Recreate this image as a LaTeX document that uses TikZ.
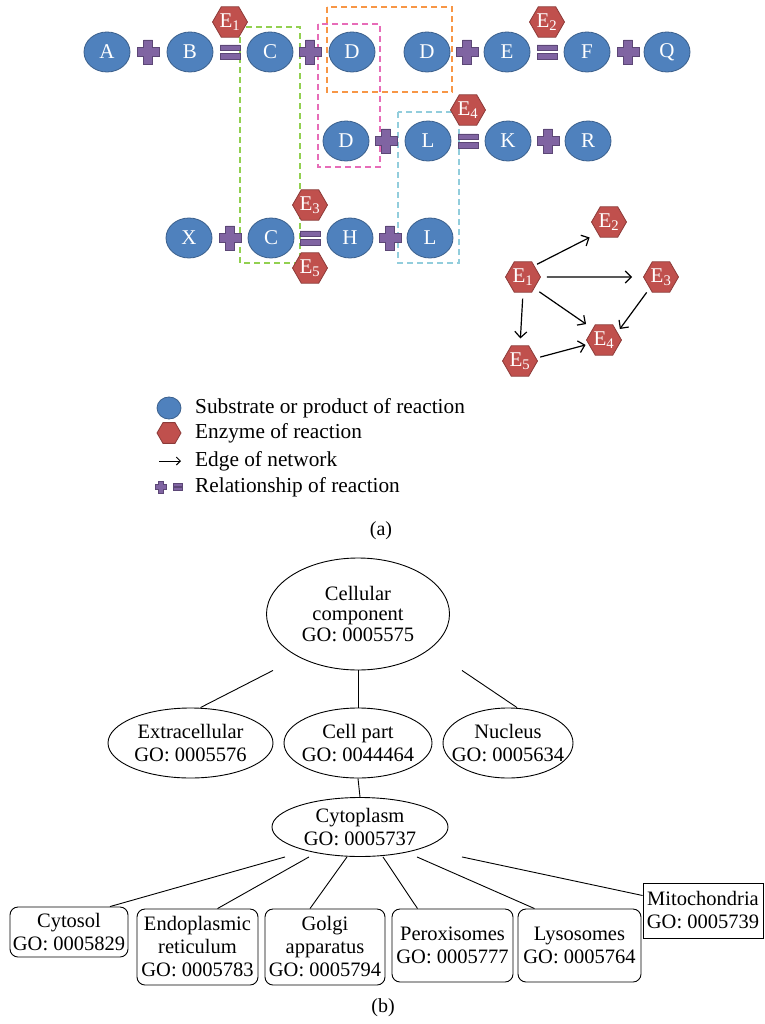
\documentclass[tikz,border=0pt]{standalone}
\usepackage{fontspec}
\setmainfont{Liberation Serif}
\usetikzlibrary{arrows.meta,shapes.geometric}

\definecolor{subfill}{HTML}{4F81BD}
\definecolor{subline}{HTML}{3A5F8C}
\definecolor{enzfill}{HTML}{C0504D}
\definecolor{enzline}{HTML}{8C3A38}
\definecolor{relfill}{HTML}{8064A2}
\definecolor{relline}{HTML}{5C4776}
\definecolor{grpgreen}{HTML}{92D050}
\definecolor{grppink}{HTML}{E76CB8}
\definecolor{grporange}{HTML}{F79646}
\definecolor{grpcyan}{HTML}{92CDDC}

\tikzset{
  substrate/.style={ellipse, draw=subline, fill=subfill, line width=0.8pt,
    minimum width=46pt, minimum height=40pt, inner sep=0pt,
    text=white, font=\fontsize{21}{21}\selectfont},
  enzyme/.style={regular polygon, regular polygon sides=6, draw=enzline,
    fill=enzfill, line width=0.8pt, minimum size=35pt, inner sep=0pt,
    text=white, font=\fontsize{21}{21}\selectfont},
  group/.style={dash pattern=on 6pt off 4pt, line width=1.3pt},
  netedge/.style={-{Straight Barb[length=6pt,width=12pt]}, line width=1.2pt},
  goterm/.style={ellipse, draw, line width=0.9pt, inner xsep=-15pt, inner ysep=-5pt,
    align=center, font=\fontsize{20.5}{23}\selectfont},
  gobox/.style={draw, rounded corners=8pt, line width=0.9pt, inner sep=0pt,
    align=center, font=\fontsize{20.5}{23}\selectfont},
  treeline/.style={line width=0.9pt},
  legtext/.style={anchor=west, inner sep=0pt, font=\fontsize{21.3}{21}\selectfont},
  pics/plussign/.style={code={
    \filldraw[fill=relfill, draw=relline, line width=0.8pt]
      (-11,-4.5) -- (-4.5,-4.5) -- (-4.5,-12) -- (4.5,-12) -- (4.5,-4.5)
      -- (11,-4.5) -- (11,4.5) -- (4.5,4.5) -- (4.5,12) -- (-4.5,12)
      -- (-4.5,4.5) -- (-11,4.5) -- cycle;}},
  pics/equalsign/.style={code={
    \filldraw[fill=relfill, draw=relline, line width=0.8pt]
      (-10,-7) rectangle (10,-1.5) (-10,1.5) rectangle (10,7);}}
}

\begin{document}
\begin{tikzpicture}[x=1pt, y=-1pt]
  \useasboundingbox (0,0) rectangle (764,1024);
  \fill[white] (0,0) rectangle (764,1024);

  % (a) reaction groups
  \draw[group, grpgreen] (240,27) rectangle (300,263);
  \draw[group, grporange] (327,7) rectangle (452,92);
  \draw[group, grppink] (318,24) rectangle (380,167);
  \draw[group, grpcyan] (398,112) rectangle (459,263);

  % relationship signs
  \pic at (148,52) {plussign};
  \pic at (230,52) {equalsign};
  \pic at (310,52) {plussign};
  \pic at (467,52) {plussign};
  \pic at (547,52) {equalsign};
  \pic at (628,52) {plussign};
  \pic at (386,141) {plussign};
  \pic at (468,141) {equalsign};
  \pic at (548,141) {plussign};
  \pic at (230,238) {plussign};
  \pic at (310,238) {equalsign};
  \pic at (390,238) {plussign};

  % substrates and products
  \node[substrate] (a) at (107,52) {A};
  \node[substrate] (b) at (190,52) {B};
  \node[substrate] (c1) at (270,52) {C};
  \node[substrate] (d1) at (352,52) {D};
  \node[substrate] (d2) at (427,52) {D};
  \node[substrate] (e) at (507,52) {E};
  \node[substrate] (f) at (587,52) {F};
  \node[substrate] (q) at (667,52) {Q};
  \node[substrate] (d3) at (346,141) {D};
  \node[substrate] (l1) at (428,141) {L};
  \node[substrate] (k) at (508,141) {K};
  \node[substrate] (r) at (588,141) {R};
  \node[substrate] (x) at (189,238) {X};
  \node[substrate] (c2) at (271,238) {C};
  \node[substrate] (h) at (350,238) {H};
  \node[substrate] (l2) at (430,238) {L};

  % enzymes
  \node[enzyme] (en1) at (230,22) {E\textsubscript{1}};
  \node[enzyme] (en2) at (547,22) {E\textsubscript{2}};
  \node[enzyme] (en4) at (468,110) {E\textsubscript{4}};
  \node[enzyme] (en3) at (310,205) {E\textsubscript{3}};
  \node[enzyme] (en5) at (310,268) {E\textsubscript{5}};

  % enzyme network
  \node[enzyme] (n1) at (523,277) {E\textsubscript{1}};
  \node[enzyme] (n2) at (609,222) {E\textsubscript{2}};
  \node[enzyme] (n3) at (661,277) {E\textsubscript{3}};
  \node[enzyme] (n4) at (604,340) {E\textsubscript{4}};
  \node[enzyme] (n5) at (520,361) {E\textsubscript{5}};
  \path[netedge]
    (n1.north east) edge[shorten <=3pt, shorten >=9pt] (n2.south west)
    (n1.east) edge[shorten <=6pt, shorten >=11pt] (n3.west)
    (n1.south east) edge[shorten <=6pt, shorten >=8pt] (n4.north west)
    (n3.south west) edge[shorten <=5pt, shorten >=4pt] (n4.30)
    (n1.south) edge[shorten <=6pt, shorten >=7pt] (n5.north)
    (n5.10) edge[shorten <=4pt, shorten >=3pt] (n4.195)
    ;

  % legend
  \node[substrate, minimum width=24pt, minimum height=22pt] (legsub) at (169,408) {};
  \node[enzyme, minimum size=24pt] (legenz) at (169,433) {};
  \coordinate (legtail) at (159,461);
  \coordinate (leghead) at (181,461);
  \draw[-{Straight Barb[length=4pt,width=8pt]}, line width=1pt] (legtail) -- (leghead);
  \pic[scale=0.5] at (161,487) {plussign};
  \pic[scale=0.47] at (178,487) {equalsign};
  \node[legtext] (legsubtext) at (195,408) {Substrate or product of reaction};
  \node[legtext] (legenztext) at (195,433) {Enzyme of reaction};
  \node[legtext] (legedgetext) at (195,461) {Edge of network};
  \node[legtext] (legreltext) at (195,487) {Relationship of reaction};

  \node[font=\fontsize{20}{20}\selectfont] (capa) at (381,531) {(a)};

  % (b) gene ontology tree
  \node[goterm, font=\fontsize{20.5}{20.5}\selectfont, minimum width=183pt, minimum height=112pt]
    (root) at (358,614) {Cellular\\component\\GO: 0005575};
  \node[goterm, minimum width=165pt, minimum height=70pt] (extra) at (190.5,743) {Extracellular\\GO: 0005576};
  \node[goterm, minimum width=148pt, minimum height=70pt] (cellpart) at (358,743) {Cell part\\GO: 0044464};
  \node[goterm, minimum width=130pt, minimum height=70pt] (nucleus) at (508,743) {Nucleus\\GO: 0005634};
  \node[goterm, minimum width=176pt, minimum height=59pt] (cyto) at (360,827) {Cytoplasm\\GO: 0005737};

  \node[gobox, minimum width=118pt, minimum height=50pt] (cytosol) at (69,932) {Cytosol\\GO: 0005829};
  \node[gobox, minimum width=121pt, minimum height=76pt] (er) at (197.5,947) {Endoplasmic\\reticulum\\GO: 0005783};
  \node[gobox, minimum width=120pt, minimum height=76pt] (golgi) at (325,947) {Golgi\\apparatus\\GO: 0005794};
  \node[gobox, minimum width=121pt, minimum height=73pt] (perox) at (452.5,945.5) {Peroxisomes\\GO: 0005777};
  \node[gobox, minimum width=123pt, minimum height=73pt] (lyso) at (579.5,945.5) {Lysosomes\\GO: 0005764};
  \node[gobox, rounded corners=0pt, minimum width=120pt, minimum height=55pt] (mito) at (703,910.5) {Mitochondria\\GO: 0005739};

  \draw[treeline] ([xshift=-85pt]root.south) -- ([xshift=10pt]extra.north);
  \draw[treeline] (root.south) -- (cellpart.north);
  \draw[treeline] ([xshift=104pt]root.south) -- ([xshift=9pt]nucleus.north);
  \draw[treeline] (cellpart.south) -- (cyto.north);
  \draw[treeline] ([xshift=-75pt]cyto.south) -- ([xshift=41pt]cytosol.north);
  \draw[treeline] ([xshift=-51pt]cyto.south) -- ([xshift=20pt]er.north);
  \draw[treeline] ([xshift=-13pt]cyto.south) -- ([xshift=-15pt]golgi.north);
  \draw[treeline] ([xshift=23pt]cyto.south) -- ([xshift=-35pt]perox.north);
  \draw[treeline] ([xshift=57pt]cyto.south) -- ([xshift=-45pt]lyso.north);
  \draw[treeline] ([xshift=102pt]cyto.south) -- ([yshift=15pt]mito.west);

  \node[font=\fontsize{20}{20}\selectfont] (capb) at (383,1008) {(b)};
\end{tikzpicture}
\end{document}
